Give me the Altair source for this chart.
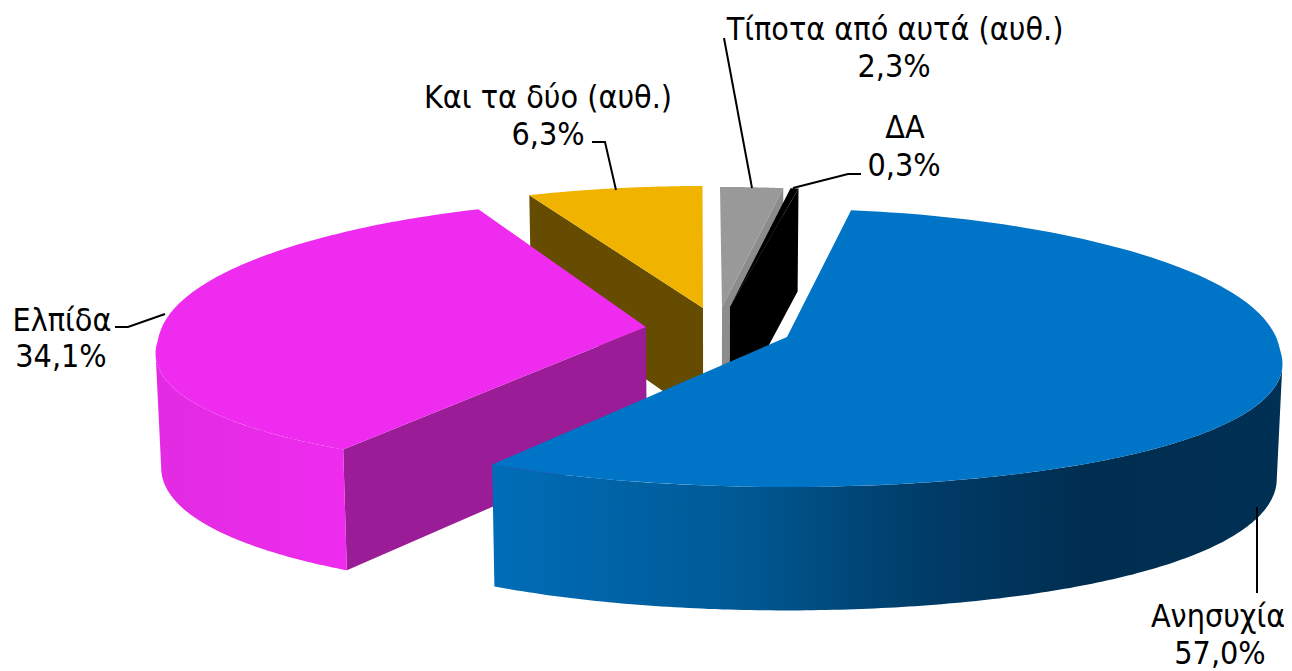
import numpy as np
import pandas as pd
import altair as alt

# ---- data ----
names = ["Ανησυχία", "Ελπίδα", "Και τα δύο (αυθ.)", "Τίποτα από αυτά (αυθ.)", "ΔΑ"]
values = [57.0, 34.1, 6.3, 2.3, 0.3]
top_colors = ["#0074C6", "#EE2BEE", "#F0B400", "#999999", "#000000"]
wall_colors = ["#0070C0", "#9A1C96", "#654C00", "#8C8C8C", "#000000"]

# ---- layout of the exploded 3D pie (page pixels) ----
START_ANGLE = 9.8
twist = [-1.5, 0, -0.5, -0.7, -0.5]
rx = [493, 488, 495, 488, 470]
PERSP, BULGE = 0.10, 13
apex = [(787, 337), (646, 327), (703, 308), (722, 307), (730, 307)]
ry_back = [128, 127, 122, 120, 120]
ry_front = [150, 146, 146, 146, 146]
W, H = 1276, 663
FONT = "DejaVu Sans Condensed"
FS = 32


def rim(i, t):
    t = np.radians(np.asarray(t, dtype=float))
    cx, cy = apex[i]
    c, s = np.cos(t), np.sin(t)
    ry = (ry_back[i] + ry_front[i]) / 2 + (ry_back[i] - ry_front[i]) / 2 * c
    cc = np.where(c > 0, np.abs(c) ** 0.85, c)
    x = cx + rx[i] * s * (1 - PERSP * c)
    y = cy - ry * cc + BULGE * s ** 2
    return np.column_stack([x, y])


def drop(p):
    p = np.asarray(p, dtype=float)
    d = 103 + (p[:, 1] - 187) * 0.068
    x = 715 + (p[:, 0] - 715) * 0.99
    return np.column_stack([x, p[:, 1] + d])


XS = alt.Scale(domain=[8, 8 + W], nice=False, zero=False)
YS = alt.Scale(domain=[8 + H, 8], nice=False, zero=False)


def face(pts, fill):
    pts = np.asarray(pts)
    df = pd.DataFrame({"x": pts[:, 0].round(1), "y": pts[:, 1].round(1), "i": np.arange(len(pts))})
    return alt.Chart(df).mark_line(fill=fill, strokeWidth=0, interpolate="linear").encode(
        x=alt.X("x:Q", scale=XS, axis=None),
        y=alt.Y("y:Q", scale=YS, axis=None),
        order="i:O",
    )


def grad(stops):
    return alt.Gradient(gradient="linear", x1=0, x2=1, y1=0, y2=0,
                        stops=[alt.GradientStop(offset=o, color=c) for o, c in stops])


edges = START_ANGLE + np.cumsum([0] + [v * 3.6 for v in values])
spans = [(edges[i] + twist[i], edges[i + 1] + twist[i]) for i in range(5)]
arc = [rim(i, np.linspace(*spans[i], 160)) for i in range(5)]
ap = [np.array([a], dtype=float) for a in apex]


def top(i):
    return face(np.vstack([ap[i], arc[i]]), top_colors[i])


def cut(i, end):
    e = arc[i][-1:] if end else arc[i][:1]
    q = np.vstack([e, ap[i]])
    return face(np.vstack([q, drop(q)[::-1]]), wall_colors[i])


def outer(i, a, b, fill):
    p = rim(i, np.linspace(a, b, 160))
    return face(np.vstack([p, drop(p)[::-1]]), fill)


layers = [
    cut(2, False), top(2),
    cut(3, True), top(3),
    cut(4, True), top(4),
    cut(1, False),
    outer(1, spans[1][0], 264.3, grad([(0, "#E22BE2"), (1, "#EE2BEE")])),
    top(1),
    outer(0, 95.7, spans[0][1], grad([(0, "#006DB8"), (0.3, "#005A96"), (0.55, "#003C68"),
                                      (0.75, "#002E50"), (1, "#003054")])),
    top(0),
]

# ---- leader lines ----
leaders = [
    [(1257, 507), (1257, 593)],
    [(115, 327), (128, 327), (165, 314)],
    [(592, 142), (605, 142), (616, 190)],
    [(724, 38), (752, 188)],
    [(861, 174), (848, 174), (793, 188)],
]
for seg in leaders:
    d = pd.DataFrame(seg, columns=["x", "y"]).assign(i=range(len(seg)))
    layers.append(alt.Chart(d).mark_line(color="#000000", strokeWidth=2).encode(
        x=alt.X("x:Q", scale=XS, axis=None), y=alt.Y("y:Q", scale=YS, axis=None), order="i:O"))

# ---- labels ----
name_pos = [(1218, 627), (62, 331), (548, 108), (895, 40), (905, 138)]
pct_pos = [(1220, 664), (61, 367), (548, 145), (894, 77), (904, 176)]
pct = [f"{v:.1f}%".replace(".", ",") for v in values]
tx = pd.DataFrame({
    "x": [p[0] for p in name_pos + pct_pos],
    "y": [p[1] for p in name_pos + pct_pos],
    "t": names + pct,
})
layers.append(alt.Chart(tx).mark_text(font=FONT, fontSize=FS, color="#000000", align="center",
                                      baseline="alphabetic").encode(
    x=alt.X("x:Q", scale=XS, axis=None), y=alt.Y("y:Q", scale=YS, axis=None), text="t:N"))

chart = alt.layer(*layers).properties(
    width=W, height=H, padding=0, autosize=alt.AutoSizeParams(type="none"),
    background="#FFFFFF"
).configure_view(stroke=None)

chart.save("out.html", embed_options={"renderer": "svg", "actions": False})
